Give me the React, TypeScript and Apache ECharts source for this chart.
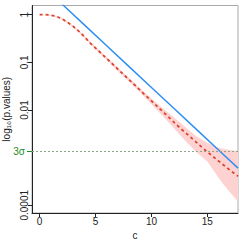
import React, { useEffect, useRef } from "react";
import * as echarts from "echarts";

// x ticks and y ticks (y axis holds log10 of p-values)
const xTickValues = [0, 5, 10, 15];
const yTickValues = [0, -1, -2, -4];
const yTickLabels = ["1", "0.1", "0.01", "0.0001"];
const sigmaLog = -2.87;
const sigmaLabel = "3σ";

// red dashed curve: log10(p)
const redC = [0, 0.5, 1, 1.5, 2, 2.5, 3, 3.5, 4, 4.5, 5, 5.5, 6, 6.5, 7, 7.5, 8, 8.5, 9, 9.5, 10, 10.5, 11, 11.5, 12, 12.5, 13, 13.5, 14, 14.5, 15, 15.5, 16, 16.5, 17, 17.5, 17.74];
const redLog = [0, 0, -0.008, -0.035, -0.085, -0.16, -0.245, -0.345, -0.46, -0.59, -0.7, -0.81, -0.92, -1.03, -1.145, -1.255, -1.365, -1.475, -1.59, -1.7, -1.81, -1.92, -2.03, -2.14, -2.255, -2.365, -2.47, -2.57, -2.675, -2.78, -2.88, -2.975, -3.07, -3.165, -3.26, -3.35, -3.39];

// pink band around red curve
const bandC = [0, 1, 2, 3, 4, 5, 6, 7, 8, 9, 10, 11, 12, 13, 14, 15, 16, 16.5, 17, 17.74];
const bandUpper = [0, 0, -0.07, -0.225, -0.435, -0.67, -0.89, -1.11, -1.33, -1.55, -1.76, -1.96, -2.15, -2.35, -2.55, -2.69, -2.79, -2.82, -2.84, -2.86];
const bandLower = [-0.005, -0.02, -0.1, -0.265, -0.485, -0.73, -0.95, -1.18, -1.4, -1.63, -1.88, -2.12, -2.38, -2.64, -2.88, -3.08, -3.42, -3.58, -3.72, -3.92];

// blue line
const blueC = [2, 4, 6, 8, 10, 12, 14, 16, 17.74];
const blueLog = [0.223, -0.214, -0.652, -1.089, -1.527, -1.965, -2.402, -2.84, -3.22];

const FONT = "'Liberation Sans', Arial, Helvetica, sans-serif";
const INK = "#222";
const GREEN = "#228b22";
const Y_MIN = -4.162;
const Y_MAX = 0.193;

export default function App() {
  const ref = useRef<HTMLDivElement>(null);
  useEffect(() => {
    if (!ref.current) return;
    const chart = echarts.init(ref.current, null, { renderer: "svg" });
    const pair = (xs: number[], ys: number[]) => xs.map((x, i) => [x, ys[i]]);
    chart.setOption({
      animation: false,
      backgroundColor: "#fff",
      grid: {
        left: 32,
        top: 5.5,
        right: 7,
        bottom: 32,
        containLabel: false,
        outerBoundsMode: "none",
        show: true,
        borderColor: "#aaaaaa",
        borderWidth: 1,
        backgroundColor: "transparent",
      },
      xAxis: {
        type: "value",
        min: -0.68,
        max: 17.74,
        name: "c",
        nameLocation: "middle",
        nameGap: 7,
        nameTextStyle: { fontSize: 10, color: INK, fontFamily: FONT },
        axisLine: { onZero: false, lineStyle: { color: INK, width: 1 } },
        axisTick: { customValues: xTickValues, length: 4, lineStyle: { color: INK } },
        axisLabel: { customValues: xTickValues, fontSize: 10, margin: 3, color: INK, fontFamily: FONT },
        splitLine: { show: false },
      },
      yAxis: [
        {
          type: "value",
          position: "left",
          min: Y_MIN,
          max: Y_MAX,
          name: "log₁₀(p.values)",
          nameLocation: "middle",
          nameGap: 10,
          nameTextStyle: { fontSize: 10, color: INK, fontFamily: FONT },
          axisLine: { onZero: false, lineStyle: { color: INK, width: 1 } },
          axisTick: { customValues: yTickValues, length: 4, lineStyle: { color: INK } },
          axisLabel: {
            customValues: yTickValues,
            rotate: 90,
            margin: 3,
            fontSize: 10,
            color: INK,
            fontFamily: FONT,
            formatter: (v: number) => {
              const i = yTickValues.findIndex((t) => Math.abs(t - v) < 1e-6);
              return i >= 0 ? yTickLabels[i] : "";
            },
          },
          splitLine: { show: false },
        },
        {
          type: "value",
          position: "left",
          min: Y_MIN,
          max: Y_MAX,
          axisLine: { show: false, onZero: false },
          axisTick: { customValues: [sigmaLog], length: 5, lineStyle: { color: GREEN } },
          axisLabel: {
            customValues: [sigmaLog],
            margin: 7,
            fontSize: 10,
            color: GREEN,
            fontFamily: FONT,
            formatter: () => sigmaLabel,
          },
          splitLine: { show: false },
        },
      ],
      series: [
        {
          type: "custom",
          name: "band",
          silent: true,
          data: bandC.map((c, i) => [c, bandUpper[i], bandLower[i]]),
          encode: { x: 0, y: [1, 2] },
          renderItem: (params: any, api: any) => {
            if (params.dataIndex !== 0) return null;
            const top = bandC.map((c, i) => api.coord([c, bandUpper[i]]));
            const bottom = bandC.map((c, i) => api.coord([c, bandLower[i]])).reverse();
            return {
              type: "polygon",
              shape: { points: top.concat(bottom) },
              style: { fill: "#ffd2d2", stroke: "none" },
            };
          },
          z: 1,
        },
        {
          type: "line",
          name: "blue",
          data: pair(blueC, blueLog),
          symbol: "none",
          lineStyle: { color: "#2f8ff5", width: 1.5 },
          z: 3,
          markLine: {
            silent: true,
            symbol: "none",
            label: { show: false },
            lineStyle: { color: "#90a68a", type: [2, 2], width: 1 },
            data: [{ yAxis: sigmaLog }],
          },
        },
        {
          type: "line",
          name: "red",
          data: pair(redC, redLog),
          symbol: "none",
          lineStyle: { color: "#d9452f", width: 1.8, type: [3, 3] },
          z: 4,
        },
      ],
    });
    return () => chart.dispose();
  }, []);
  return (
    <div
      ref={ref}
      style={{ position: "fixed", left: 0, top: 0, width: 245, height: 245, background: "#fff" }}
    />
  );
}
